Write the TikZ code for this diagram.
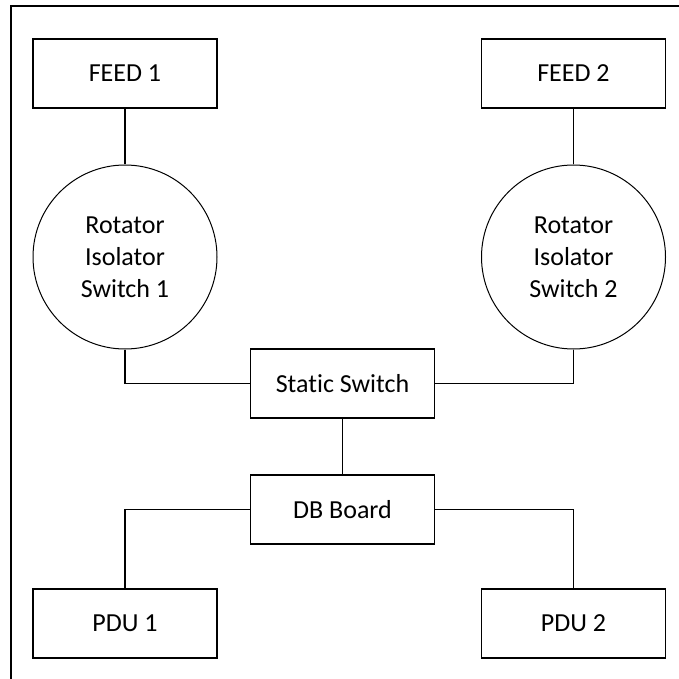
\documentclass[tikz,border=0pt]{standalone}
\usepackage{fontspec}
\setmainfont{Carlito}[Ligatures=NoCommon]
\begin{document}
\begin{tikzpicture}[x=1pt,y=-1pt,
  label text/.style={font=\fontsize{26}{32}\selectfont},
  box/.style={draw, line width=1.4pt, minimum width=184pt, minimum height=69pt,
    inner sep=0pt, label text},
  disc/.style={draw, circle, line width=1pt, minimum size=184pt, inner sep=0pt,
    align=center, label text},
  link/.style={line width=1.6pt}]
\useasboundingbox (0,0) rectangle (678,679);
% frame
\draw[line width=2pt] (11,679) -- (11,6) -- (679,6);
% feeds
\node[box] (feed1) at (125,73.5) {FEED 1};
\node[box] (feed2) at (573.5,73.5) {FEED 2};
% rotary isolators
\node[disc] (ris1) at (125,257) {Rotator\\Isolator\\Switch 1};
\node[disc] (ris2) at (573.5,257) {Rotator\\Isolator\\Switch 2};
% switching and distribution
\node[box] (sts) at (342.5,383.5) {Static Switch};
\node[box] (db) at (342.5,509.5) {DB Board};
\node[box] (pdu1) at (125,623.5) {PDU 1};
\node[box] (pdu2) at (573.5,623.5) {PDU 2};
% connections
\draw[link] (feed1.south) -- (ris1.north);
\draw[link] (feed2.south) -- (ris2.north);
\draw[link] (ris1.south) |- (sts.west);
\draw[link] (ris2.south) |- (sts.east);
\draw[link] (sts.south) -- (db.north);
\draw[link] (db.west) -| (pdu1.north);
\draw[link] (db.east) -| (pdu2.north);
\end{tikzpicture}
\end{document}
